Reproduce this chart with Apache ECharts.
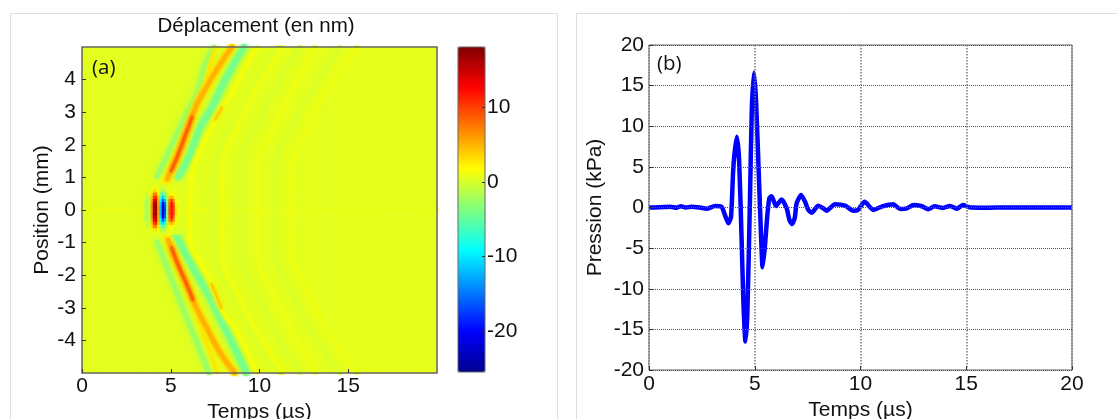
<!DOCTYPE html>
<html><head><meta charset="utf-8">
<style>html,body{margin:0;padding:0;background:#fff}#c{width:1117px;height:419px}</style>
<script src="https://cdn.jsdelivr.net/npm/echarts@6/dist/echarts.min.js"></script>
</head><body><div id="c"></div>
<script>
// --- colour scale
const jet = ['#00008f','#0000ff','#0080ff','#00ffff','#80ff80','#ffff00','#ff8000','#ff0000','#800000'];
const vMin = -25.4, vMax = 18;
// --- panel (a): background by time column (step 0.5 us)
const bgTimes = ['0','0.5','1','1.5','2','2.5','3','3.5','4','4.5','5','5.5','6','6.5','7','7.5','8','8.5','9','9.5','10','10.5','11','11.5','12','12.5','13','13.5','14','14.5','15','15.5','16','16.5','17','17.5','18','18.5','19','19.5'];
const bgValues = [0.5,0.5,0.5,0.5,0.5,0.5,0.5,0.5,0.5,0.5,0.5,0.5,0.5,0.5,0.5,0.5,0.5,0.5,0.5,0.5,0.5,0.6,0.5,0.6,0.5,0.6,0.6,0.5,0.6,0.6,0.6,0.6,0.6,0.6,0.6,0.6,0.6,0.6,0.6,0.6];
// --- panel (a): focus blob near the origin
const blobTimes = ['3.25','3.375','3.5','3.625','3.75','3.875','4','4.125','4.25','4.375','4.5','4.625','4.75','4.875','5','5.125','5.25','5.375'];
const blobPos = ['-0.7','-0.6','-0.5','-0.4','-0.3','-0.2','-0.1','0','0.1','0.2','0.3','0.4','0.5','0.6','0.7'];
const blobByAbsPos = [
 [0.5,0.5,-1,-2,-1,6,16,17,6,-12,-23,-18,-4,9,12,9,3,0.5],
 [0.5,0.5,-1,-2,-1,6,16,17,6,-12,-22,-17,-4,9,12,9,3,0.5],
 [0.5,0.5,-1,-2,-1,6,15,16,5,-11,-21,-16,-3,8,12,8,2,0.5],
 [0.5,0.5,-1,-2,-1,5,13,14,5,-9,-16,-12,-3,7,10,6,2,0.5],
 [0.5,0.5,0.5,-1,-1,4,10,11,4,-6,-11,-8,-2,4,5,3,1,0.5],
 [0.5,0.5,0.5,-1,0.5,3,7,7,2,-3,-6,-4,-1,2,2,1,0.5,0.5],
 [0.5,0.5,0.5,0.5,0.5,1,3,3,1,-1,-2,-2,0.5,1,1,0.5,0.5,0.5],
 [0.5,0.5,0.5,0.5,0.5,0.6,1,1,0.6,0.2,-0.3,-0.3,0.5,0.6,0.6,0.5,0.5,0.5]
];
// --- panel (a): wave fronts [time us, position mm]
const redUpper = [[4.73,0.86],[5.34,1.6],[5.9,2.41],[6.46,3.23],[7.1,3.85],[7.77,4.46],[8.45,5.0]];
const redUpperMid = [[4.8,0.95],[5.34,1.6],[5.9,2.41],[6.46,3.23],[7.1,3.85],[7.77,4.46],[8.45,5.0]];
const redUpperCore = [[5.02,1.2],[5.34,1.6],[5.9,2.41],[6.2,2.85]];
const redLower = [[4.79,-0.83],[5.35,-1.6],[5.92,-2.31],[6.37,-2.92],[7.04,-3.63],[7.77,-4.37],[8.6,-5.0]];
const redLowerMid = [[4.85,-0.92],[5.35,-1.6],[5.92,-2.31],[6.37,-2.92],[7.04,-3.63],[7.77,-4.37],[8.6,-5.0]];
const redLowerCore = [[5.05,-1.15],[5.35,-1.6],[5.92,-2.31],[6.25,-2.75]];
const greenUpperRight = [[5.41,1.02],[6.08,1.69],[6.65,2.52],[7.32,3.14],[7.94,3.85],[8.62,4.55],[9.13,5.0]];
const greenUpperLeft = [[4.23,1.02],[5.07,2.0],[5.8,2.86],[6.48,3.6],[6.93,4.46],[7.44,5.0]];
const greenLowerRight = [[5.24,-0.71],[6.08,-1.6],[7.04,-2.52],[7.77,-3.32],[8.62,-4.25],[9.25,-5.0]];
const greenLowerLeft = [[4.23,-0.98],[4.96,-2.0],[5.69,-3.02],[6.37,-3.94],[7.15,-5.0]];
const yellowUpperMid = [[6.48,3.3],[6.93,3.85],[7.38,4.77],[7.55,5.0]];
const yellowLowerMid = [[6.37,-3.02],[6.93,-3.94],[7.65,-5.0]];
const yellowSide = [[9.86,5.0],[9.07,4.25],[8.62,3.75],[7.89,3.14],[7.38,2.62],[6.37,1.48],[6.2,1.08],[6.08,0],[6.08,-0.86],[6.65,-1.6],[7.21,-2.15],[7.94,-3.14],[8.62,-3.63],[9.85,-5.0]];
const orangeSideUp = [[7.5,2.78],[7.89,3.14]];
const orangeSideLow = [[7.3,-2.28],[7.85,-3.0]];
const arcB = [[11.15,5],[10.48,4.6],[9.07,3.14],[7.6,1.48],[7.38,0],[7.6,-1.48],[9.07,-3.14],[10.48,-4.6],[11.15,-5]];
const arcC = [[11.3,5],[9.86,3.75],[8.79,2.62],[7.89,1.29],[7.94,0],[7.89,-1.29],[8.79,-2.62],[9.86,-3.75],[11.3,-5]];
const arcD = [[12.28,5],[11.15,4],[9.92,2.62],[8.9,1.38],[8.9,0],[8.9,-1.38],[9.92,-2.62],[11.15,-4],[12.28,-5]];
const arcE = [[13.13,5],[12,3.85],[10.88,2.62],[9.92,1.38],[9.92,0],[9.92,-1.38],[10.88,-2.62],[12,-3.85],[13.13,-5]];
const arcF = [[14.55,5],[13.13,3.85],[11.72,2.46],[10.87,1.23],[10.87,0],[10.87,-1.23],[11.72,-2.46],[13.13,-3.85],[14.55,-5]];
const arcG = [[15.5,5],[14,3.85],[12.6,2.4],[11.8,1.2],[11.72,0],[11.8,-1.2],[12.6,-2.4],[14,-3.85],[15.5,-5]];
const centreRow = [[0,0],[20,0]];
// [points, value nm, width px, blur px]
const fronts = [
 [centreRow,0.75,3,3],
 [arcB,0.05,4,5],[arcC,1.0,4,5],[arcD,0.05,4,5],[arcE,0.95,4,5],[arcF,0.1,4,5],[arcG,0.9,4,5],
 [greenUpperLeft,-2.5,5,7],[greenLowerLeft,-2.5,5,7],
 [greenUpperRight,-4,7,7],[greenLowerRight,-4,7,7],
 [yellowSide,1.3,3.5,5],[orangeSideUp,4,2.5,5],[orangeSideLow,4,2.5,5],
 [yellowUpperMid,2.8,3,5],[yellowLowerMid,2.8,3,5],
 [redUpper,2.5,7,5],[redLower,2.5,7,5],
 [redUpperMid,5,4.5,4],[redLowerMid,5,4.5,4],
 [redUpperCore,8.5,3,4],[redLowerCore,8.5,3,4]
];
// --- panel (b): pressure trace
const pressure = [[0,0],[0.5,0.03],[1,0.1],[1.3,-0.02],[1.5,0.15],[1.75,0],[2,0.1],[2.4,0],[2.73,-0.15],[3.12,0.18],[3.43,0.1],[3.59,-0.93],[3.75,-1.95],[3.88,-1.1],[3.99,5.0],[4.15,8.7],[4.26,5.85],[4.38,-4],[4.46,-11.4],[4.56,-16.5],[4.65,-13],[4.78,1.8],[4.86,12],[4.96,16.6],[5.06,13.2],[5.2,3.4],[5.3,-3.6],[5.37,-7.35],[5.48,-4.8],[5.59,-1.1],[5.69,1.13],[5.8,1.4],[6.0,0.18],[6.27,1.0],[6.51,-0.1],[6.64,-1.54],[6.76,-2.03],[6.89,-1.3],[6.98,0.5],[7.19,1.54],[7.38,0.7],[7.53,-0.3],[7.69,-0.64],[8.0,0.22],[8.24,-0.1],[8.4,-0.39],[8.79,0.39],[9.27,0.22],[9.66,-0.39],[9.85,-0.35],[10.2,0.7],[10.6,-0.3],[11.0,0.1],[11.55,0.39],[11.87,-0.18],[12.2,-0.1],[12.5,0.3],[12.9,0.15],[13.2,-0.22],[13.5,0.15],[13.9,-0.05],[14.23,0.2],[14.55,-0.15],[14.85,0.3],[15.18,0],[16,-0.02],[17,0],[18,0],[19,0],[20,0]];
const yTicksA = [-4,-3,-2,-1,0,1,2,3,4];
const barTicks = [-20,-10,0,10];
const xTicksA = [0,5,10,15];

const chart = echarts.init(document.getElementById('c'), null, {renderer:'canvas'});
const font = 'Liberation Sans', dark = '#111', frame = '#666';
const colorOf = v => echarts.color.lerp((v - vMin) / (vMax - vMin), jet);

const bgData = bgValues.map((v,i)=>[i,0,v]);
const blobData = [];
blobPos.forEach((p,r)=>{
  const row = blobByAbsPos[Math.round(Math.abs(parseFloat(p))*10)];
  row.forEach((v,c)=>blobData.push([c,r,v]));
});
const hiddenCat = (data,gi)=>({type:'category',data,gridIndex:gi,show:false});
const lab = {color:dark,fontFamily:font,fontSize:21};
const tick = {show:true,inside:true,length:4,lineStyle:{color:'#333'}};
const noLine = {show:false,onZero:false};

const series = [
 {type:'heatmap',xAxisIndex:0,yAxisIndex:0,data:bgData,silent:true,progressive:0,z:1},
 {type:'heatmap',xAxisIndex:1,yAxisIndex:1,data:blobData,silent:true,progressive:0,z:3}
];
fronts.forEach(f=>{
  const col = colorOf(f[1]);
  series.push({type:'line',xAxisIndex:2,yAxisIndex:2,data:f[0],smooth:0.45,symbol:'none',silent:true,z:2,
    lineStyle:{color:col,width:f[2],cap:'round',shadowBlur:f[3],shadowColor:col}});
});
series.push({type:'line',xAxisIndex:4,yAxisIndex:4,data:pressure,smooth:0.2,symbol:'none',silent:true,z:4,
  lineStyle:{color:'#0000ff',width:4.5,join:'round'}});

const noBounds = {outerBoundsMode:'none',containLabel:false};
chart.setOption({
 animation:false,
 backgroundColor:'#fff',
 textStyle:{fontFamily:font},
 title:{text:'Déplacement (en nm)',left:256,top:16,textAlign:'center',padding:0,textStyle:{fontFamily:font,fontSize:20.5,fontWeight:'normal',color:dark}},
 graphic:[
  {type:'polyline',z:-1,shape:{points:[[10.5,425],[10.5,13.5],[557.5,13.5],[557.5,425]]},style:{stroke:'#ddd',fill:null,lineWidth:1}},
  {type:'polyline',z:-1,shape:{points:[[1125,13.5],[576.5,13.5],[576.5,425]]},style:{stroke:'#ddd',fill:null,lineWidth:1}},
  {type:'text',z:20,left:92,top:58,style:{text:'(a)',fontFamily:'Open Sans',fontSize:20.5,fill:'#111'}},
  {type:'text',z:20,left:657,top:54,style:{text:'(b)',fontFamily:'Open Sans',fontSize:20.5,fill:'#111'}}
 ],
 visualMap:{type:'continuous',seriesIndex:[0,1],min:vMin,max:vMax,calculable:false,realtime:false,hoverLink:false,
   left:458,top:47,itemWidth:27,itemHeight:325,padding:0,text:['',''],textGap:0,showLabel:false,
   inRange:{color:jet},z:1},
 grid:[
  {...noBounds,left:82,top:47,width:355,height:326,z:0},
  {...noBounds,left:139.7,top:185.6,width:39.9,height:48.75,z:0},
  {...noBounds,left:82,top:47,width:355,height:326,show:true,borderColor:frame,borderWidth:1.5,backgroundColor:'transparent',z:5},
  {...noBounds,left:458,top:47,width:27,height:325,show:true,borderColor:frame,borderWidth:1,backgroundColor:'transparent',z:6},
  {...noBounds,left:649,top:45,width:423,height:325,show:true,borderColor:frame,borderWidth:1,backgroundColor:'transparent',z:5}
 ],
 xAxis:[
  hiddenCat(bgTimes,0),
  hiddenCat(blobTimes,1),
  {type:'value',gridIndex:2,min:0,max:20,interval:5,z:6,
   axisLine:noLine,axisTick:{...tick,customValues:xTicksA},splitLine:{show:false},
   axisLabel:{...lab,margin:3,customValues:xTicksA},
   name:'Temps (µs)',nameLocation:'middle',nameGap:26,nameTextStyle:{...lab}},
  {type:'value',gridIndex:3,min:0,max:1,show:false},
  {type:'value',gridIndex:4,min:0,max:20,interval:5,z:6,
   axisLine:noLine,axisTick:{...tick},
   splitLine:{show:true,lineStyle:{type:'dotted',color:'#777',width:1.5}},
   axisLabel:{...lab,margin:4},
   name:'Temps (µs)',nameLocation:'middle',nameGap:30,nameTextStyle:{...lab}}
 ],
 yAxis:[
  hiddenCat(['all'],0),
  hiddenCat(blobPos,1),
  {type:'value',gridIndex:2,min:-5,max:5,interval:1,z:6,
   axisLine:noLine,axisTick:{...tick,customValues:yTicksA},splitLine:{show:false},
   axisLabel:{...lab,margin:6,customValues:yTicksA},
   name:'Position (mm)',nameLocation:'middle',nameGap:29,nameRotate:90,nameTextStyle:{...lab}},
  {type:'value',gridIndex:3,min:vMin,max:vMax,position:'right',z:7,
   axisLine:noLine,axisTick:{...tick,length:3,customValues:barTicks},splitLine:{show:false},
   axisLabel:{...lab,margin:2,customValues:barTicks}},
  {type:'value',gridIndex:4,min:-20,max:20,interval:5,z:6,
   axisLine:noLine,axisTick:{...tick},
   splitLine:{show:true,lineStyle:{type:'dotted',color:'#555',width:1}},
   axisLabel:{...lab,margin:5},
   name:'Pression (kPa)',nameLocation:'middle',nameGap:43,nameRotate:90,nameTextStyle:{...lab}}
 ],
 series
});
</script></body></html>
